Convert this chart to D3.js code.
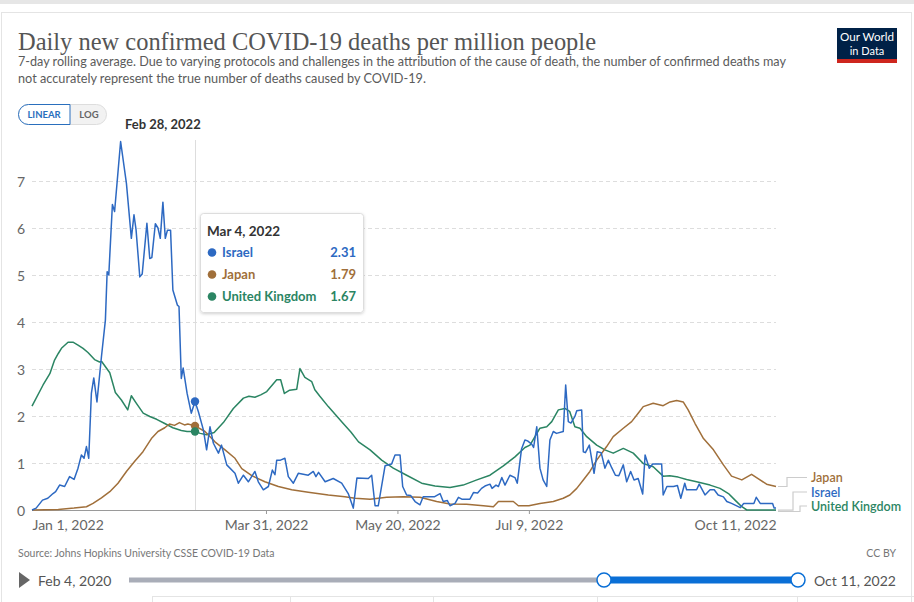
<!DOCTYPE html>
<html>
<head>
<meta charset="UTF-8">
<title>Daily new confirmed COVID-19 deaths per million people</title>
<script src="https://cdn.jsdelivr.net/npm/d3@7"></script>
<style>
  body { margin: 0; background: #fff; }
  text { font-family: Lato, "Noto Sans", sans-serif; }
  .yaxis text, .xaxis text { fill: #666; font-size: 14px; }
  .yaxis .domain, .xaxis .domain { display: none; }
  .yaxis line { stroke: #ddd; stroke-dasharray: 4,3; }
  .xaxis line { stroke: #999; }
</style>
</head>
<body>
<svg id="svg"></svg>
<script>
var WIDTH = 914, HEIGHT = 602;

// day offsets from Jan 1, 2022 and values
var israel = [[0,0],[1.6,0.04],[4,0.21],[6,0.25],[8,0.35],[9,0.39],[10.5,0.53],[12.4,0.5],[14.3,0.71],[16,0.65],
  [17.5,0.89],[18.8,1.17],[19.8,1.1],[20.7,1.35],[21.6,1.1],[22.6,2.48],[23.5,2.81],[24.7,2.3],[26.4,3.26],[27.9,4.04],
  [28.6,5.07],[29.2,5.0],[30.6,6.5],[31.4,6.35],[33.7,7.84],[35.9,6.95],[37.8,5.78],[38.8,6.28],[39.6,5.96],[41,4.96],
  [41.9,5.02],[43.7,6.1],[44.8,5.35],[45.6,5.37],[46.9,6.09],[47.9,6.0],[48.8,5.78],[49.8,6.55],[50.7,5.78],[51.5,5.95],
  [52.7,5.95],[53.6,4.68],[55.3,4.36],[55.9,4.33],[56.8,2.8],[57.5,3.02],[59,2.48],[60.6,2.06],[62,2.31],[63.3,2.09],
  [65.2,1.7],[66.4,1.28],[67.7,1.77],[69,1.42],[70.9,1.21],[72.1,1.38],[74.1,0.96],[77.2,0.78],[78.5,0.57],[80.4,0.74],
  [82.3,0.6],[84.8,0.82],[86.1,0.6],[88,0.43],[89.9,0.5],[91.4,0.85],[92.4,0.75],[93.1,1.06],[94.5,1.06],[96.2,1.1],
  [97.5,0.71],[99.4,0.57],[101.3,0.78],[105.1,0.74],[107,0.82],[108,0.71],[109,0.8],[111.5,0.6],[114.6,0.67],[117.8,0.57],
  [120.3,0.35],[122.2,0.04],[123.6,0.68],[127.9,0.67],[129.2,0.74],[130.5,0.09],[131.7,0.09],[134.3,0.94],[136.8,0.98],[138.1,1.17],
  [140,1.17],[141,0.5],[142.5,0.32],[144,0.31],[145.7,0.18],[147.6,0.11],[148.8,0.28],[153,0.28],[155.2,0.35],[156.4,0.18],
  [158,0.2],[159,0.09],[160.9,0.14],[162.2,0.27],[163.5,0.23],[166.6,0.23],[167.9,0.37],[169.5,0.36],[171,0.46],[172.3,0.51],
  [174.2,0.55],[175,0.46],[176.5,0.53],[177.4,0.5],[178.7,0.69],[179.9,0.53],[181.8,0.74],[183.7,0.69],[184.6,0.57],[186.2,1.3],
  [187.5,1.49],[188.5,1.47],[190.1,1.4],[190.8,1.33],[192,1.77],[193.2,0.89],[194.4,0.64],[195.8,0.5],[197,1.49],[198.3,1.67],
  [199.5,1.63],[202.1,1.67],[203,2.66],[204,1.88],[205,1.85],[206.5,1.99],[207.2,2.11],[209.1,2.13],[209.7,1.24],[210.5,1.22],
  [212,1.38],[213.8,0.78],[215,1.24],[216.5,1.22],[217.9,0.89],[219.2,1.06],[220.5,0.9],[221.9,0.74],[223.2,0.73],[224.9,0.96],
  [226.2,0.6],[227.7,0.82],[229,0.64],[230.6,0.67],[232.3,0.34],[233.2,1.17],[234.8,0.89],[236.1,0.98],[239.5,0.98],[240.1,0.32],
  [241.5,0.5],[244,0.5],[245.5,0.52],[246.8,0.25],[248.3,0.57],[249,0.43],[252.8,0.43],[253.8,0.55],[256,0.32],[257.9,0.43],
  [259.5,0.43],[261,0.32],[263,0.28],[264.3,0.18],[266.1,0.14],[269.4,0.05],[270.7,0.14],[274.6,0.14],[275.5,0.27],[277,0.14],
  [281.7,0.14],[282.3,0.04],[283,0.04]];

var japan = [[0,0],[10,0.01],[16,0.04],[20.7,0.07],[23.2,0.14],[26.4,0.26],[29.6,0.39],[32.7,0.57],[35.9,0.82],[39,1.03],
  [42.2,1.24],[45.4,1.52],[47.9,1.67],[50.5,1.75],[52.3,1.83],[54.2,1.8],[56.1,1.86],[58,1.81],[59.3,1.83],[62,1.79],
  [65.8,1.67],[69.6,1.45],[73.4,1.28],[77.2,1.1],[79.8,0.88],[83.6,0.73],[88.6,0.6],[93.7,0.5],[98.8,0.43],[105.1,0.38],
  [112.7,0.32],[119,0.28],[122.9,0.25],[128.6,0.23],[134.9,0.27],[141.3,0.28],[147.6,0.27],[153.9,0.18],[159,0.13],[165.3,0.12],
  [171.7,0.09],[175.5,0.07],[177.4,0.18],[183.1,0.18],[185,0.09],[189,0.09],[193.2,0.14],[198.3,0.18],[202.1,0.25],[204.6,0.32],
  [207.2,0.46],[209.7,0.64],[212.2,0.82],[214.8,1.06],[218.6,1.35],[221.1,1.56],[224.9,1.74],[228.1,1.88],[230.6,2.06],[232.5,2.2],
  [236.3,2.27],[240.1,2.22],[242.7,2.3],[245.2,2.33],[247.7,2.3],[249.6,2.13],[252.2,1.84],[255.4,1.52],[259.2,1.28],[263,0.96],
  [266.1,0.72],[270,0.64],[273.7,0.76],[276.9,0.64],[279.4,0.55],[283,0.5]];

var uk = [[0,2.21],[4.2,2.66],[6.8,2.9],[8.6,3.19],[10,3.33],[11.2,3.44],[13.7,3.57],[15.6,3.57],[17.5,3.51],[19.4,3.44],
  [21.3,3.35],[23.8,3.2],[25.7,3.15],[26.5,3.16],[29.6,2.92],[31.7,2.5],[34,2.34],[36.4,2.13],[37.8,2.43],[39.6,2.28],
  [42.3,2.06],[44.8,1.99],[47.4,1.93],[50.5,1.84],[53.6,1.75],[56.8,1.69],[59,1.67],[62,1.67],[64,1.63],[66.4,1.6],
  [69.3,1.65],[72.8,1.86],[76.6,2.16],[80.4,2.38],[82.5,2.42],[84.8,2.4],[87,2.45],[89.3,2.52],[93.1,2.77],[94.6,2.77],
  [96,2.48],[98,2.55],[100.7,2.57],[101.9,3.01],[103.8,2.82],[106.4,2.73],[107.6,2.56],[109.5,2.42],[112.7,2.2],[117.8,1.88],
  [121.3,1.66],[124.2,1.45],[128.6,1.28],[133,1.06],[137.4,0.89],[142.5,0.74],[148.2,0.57],[153.3,0.51],[159,0.48],[164,0.53],
  [169.2,0.64],[174.2,0.74],[179.3,0.94],[183.7,1.13],[187.5,1.33],[189.4,1.38],[193.2,1.74],[195.8,1.77],[197.7,1.88],[200.2,2.13],
  [202.7,2.16],[204.5,2.1],[206.5,1.77],[208.4,1.74],[211,1.56],[214.8,1.38],[217.9,1.28],[221.1,1.21],[224.9,1.31],[228.7,1.21],
  [232.5,0.99],[236.3,0.92],[240.1,0.72],[242.6,0.73],[245.8,0.7],[249,0.65],[252.8,0.6],[257.9,0.53],[261.7,0.46],[264.9,0.35],
  [267.4,0.21],[270,0.07],[271.9,0],[283,0]];

var countries = ["Israel", "Japan", "United Kingdom"];
var colors = ["#2d69c2", "#a06f3a", "#2b8563"];
var hoverDay = 62;           // Mar 4, 2022
var hoverValues = [2.31, 1.79, 1.67];
var yTicks = [0, 1, 2, 3, 4, 5, 6, 7];
var xTickDays = [0, 89, 139, 189, 283];
var endLabels = ["Japan", "Israel", "United Kingdom"];

var start = new Date(2022, 0, 1);
function toDate(d) { return d3.timeHour.offset(start, Math.round(d * 24)); }

var svg = d3.select("#svg").attr("width", WIDTH).attr("height", HEIGHT);

// frame
svg.append("rect").attr("x", 0).attr("y", 0).attr("width", WIDTH).attr("height", 4).attr("fill", "#e6e6e6");
svg.append("rect").attr("x", 1.5).attr("y", 12.5).attr("width", 910).attr("height", 600)
   .attr("fill", "#fff").attr("stroke", "#e4e4e4");

// header
svg.append("text").attr("x", 18).attr("y", 50).text("Daily new confirmed COVID-19 deaths per million people")
   .style("font-family", "'Liberation Serif', 'DejaVu Serif', serif").style("font-size", "25px").attr("fill", "#555")
   .attr("textLength", 578).attr("lengthAdjust", "spacingAndGlyphs");
svg.append("text").attr("x", 18).attr("y", 66)
   .text("7-day rolling average. Due to varying protocols and challenges in the attribution of the cause of death, the number of confirmed deaths may")
   .style("font-size", "12.5px").attr("fill", "#5b5b5b").attr("textLength", 768).attr("lengthAdjust", "spacingAndGlyphs");
svg.append("text").attr("x", 18).attr("y", 83)
   .text("not accurately represent the true number of deaths caused by COVID-19.")
   .style("font-size", "12.5px").attr("fill", "#5b5b5b").attr("textLength", 408).attr("lengthAdjust", "spacingAndGlyphs");

// logo
var logo = svg.append("g");
logo.append("rect").attr("x", 837).attr("y", 28).attr("width", 60).attr("height", 35).attr("fill", "#002147");
logo.append("rect").attr("x", 837).attr("y", 59).attr("width", 60).attr("height", 4).attr("fill", "#ce261e");
logo.append("text").attr("x", 867).attr("y", 41).attr("text-anchor", "middle").attr("fill", "#fff")
    .style("font-size", "11px").attr("textLength", 54).attr("lengthAdjust", "spacingAndGlyphs").text("Our World");
logo.append("text").attr("x", 867).attr("y", 55).attr("text-anchor", "middle").attr("fill", "#fff")
    .style("font-size", "11px").text("in Data");

// linear / log toggle
svg.append("rect").attr("x", 18.5).attr("y", 104.5).attr("width", 88).attr("height", 20).attr("rx", 10)
   .attr("fill", "#f2f2f2").attr("stroke", "#ddd");
svg.append("path").attr("d", "M70,104.5 H28.5 A10,10 0 0 0 28.5,124.5 H70 Z")
   .attr("fill", "#fff").attr("stroke", "#2a6fbd");
svg.append("text").attr("x", 44).attr("y", 118).attr("text-anchor", "middle").attr("fill", "#2a6fbd")
   .style("font-size", "9.5px").style("font-weight", "bold").text("LINEAR");
svg.append("text").attr("x", 89).attr("y", 118).attr("text-anchor", "middle").attr("fill", "#666")
   .style("font-size", "9.5px").style("font-weight", "bold").text("LOG");
svg.append("text").attr("x", 125).attr("y", 129).attr("fill", "#333")
   .style("font-size", "13px").style("font-weight", "bold").text("Feb 28, 2022");

// scales
var xScale = d3.scaleTime().domain([start, toDate(283)]).range([32, 776]);
var yScale = d3.scaleLinear().domain([0, 7]).range([510, 181]);

// y axis with dashed grid
var yAxis = d3.axisLeft(yScale).tickValues(yTicks).tickSize(-(776 - 32)).tickPadding(7).tickFormat(d3.format("d"));
var gy = svg.append("g").attr("class", "yaxis").attr("transform", "translate(32,0)").call(yAxis);
gy.selectAll(".tick").filter(function(d){ return d === 0; }).select("line").remove();
gy.selectAll("text").attr("x", -7).attr("dy", "0.36em");

// x axis
var xAxis = d3.axisBottom(xScale).tickValues(xTickDays.map(toDate)).tickSize(4).tickPadding(6)
              .tickFormat(d3.timeFormat("%b %-d, %Y"));
var gx = svg.append("g").attr("class", "xaxis").attr("transform", "translate(0,510)").call(xAxis);
gx.selectAll(".tick").filter(function(d, i){ return i === 0 || i === xTickDays.length - 1; }).select("line").remove();
gx.selectAll(".tick text").attr("text-anchor", function(d, i){
  return i === 0 ? "start" : (i === xTickDays.length - 1 ? "end" : "middle");
});
svg.append("line").attr("x1", 32).attr("x2", 776).attr("y1", 510.5).attr("y2", 510.5).attr("stroke", "#9a9a9a");

// hover line
svg.append("line").attr("x1", xScale(toDate(hoverDay)) + 0.5).attr("x2", xScale(toDate(hoverDay)) + 0.5)
   .attr("y1", 140).attr("y2", 510).attr("stroke", "#ddd");

// lines
var line = d3.line().x(function(d){ return xScale(toDate(d[0])); }).y(function(d){ return yScale(d[1]); });
var seriesData = [israel, japan, uk];
[2, 1, 0].forEach(function(i){
  svg.append("path").datum(seriesData[i]).attr("d", line).attr("fill", "none")
     .attr("stroke", colors[i]).attr("stroke-width", 1.5).attr("stroke-linejoin", "round");
});

// hover dots
hoverValues.forEach(function(v, i){
  svg.append("circle").attr("cx", xScale(toDate(hoverDay))).attr("cy", yScale(v)).attr("r", 4.2).attr("fill", colors[i]);
});

// end labels with connectors
var lastVals = [japan[japan.length - 1][1], israel[israel.length - 1][1], uk[uk.length - 1][1]];
var labelColors = [colors[1], colors[0], colors[2]];
var labelY = [477.5, 492, 506];
var elbowX = [787, 793, 800];
endLabels.forEach(function(name, i){
  var y0 = yScale(lastVals[i]) + (i === 1 ? 2 : (i === 2 ? 1.5 : 0));
  svg.append("path").attr("d", "M778," + y0 + " H" + elbowX[i] + " V" + labelY[i] + " H807")
     .attr("fill", "none").attr("stroke", "#ccc").attr("stroke-width", 1.2);
  svg.append("text").attr("x", 811).attr("y", labelY[i] + 4.5).attr("fill", labelColors[i])
     .style("font-size", "12.5px").style("font-weight", "600").text(name);
});

// tooltip
var defs = svg.append("defs");
var f = defs.append("filter").attr("id", "shadow").attr("x", "-10%").attr("y", "-10%").attr("width", "120%").attr("height", "130%");
f.append("feDropShadow").attr("dx", 0).attr("dy", 1).attr("stdDeviation", 1.5).attr("flood-color", "#000").attr("flood-opacity", 0.18);
var tip = svg.append("g");
tip.append("rect").attr("x", 200.5).attr("y", 213.5).attr("width", 163).attr("height", 99).attr("rx", 3)
   .attr("fill", "#fff").attr("stroke", "#ddd").attr("filter", "url(#shadow)");
tip.append("text").attr("x", 207).attr("y", 236).attr("fill", "#333")
   .style("font-size", "13.5px").style("font-weight", "bold").text("Mar 4, 2022");
var rowY = [257, 279, 301];
countries.forEach(function(c, i){
  tip.append("circle").attr("cx", 212).attr("cy", rowY[i] - 4.5).attr("r", 4.3).attr("fill", colors[i]);
  tip.append("text").attr("x", 222).attr("y", rowY[i]).attr("fill", colors[i])
     .style("font-size", "13px").style("font-weight", "bold").text(c);
  tip.append("text").attr("x", 356).attr("y", rowY[i]).attr("text-anchor", "end").attr("fill", colors[i])
     .style("font-size", "13px").style("font-weight", "bold").text(d3.format(".2f")(hoverValues[i]));
});

// footer
svg.append("text").attr("x", 18).attr("y", 557).attr("fill", "#777").style("font-size", "10.5px")
   .text("Source: Johns Hopkins University CSSE COVID-19 Data");
svg.append("text").attr("x", 896).attr("y", 557).attr("text-anchor", "end").attr("fill", "#777").style("font-size", "10.5px")
   .text("CC BY");

// timeline
svg.append("path").attr("d", "M19,572 L30,580 L19,588 Z").attr("fill", "#666");
svg.append("text").attr("x", 38).attr("y", 585.5).attr("fill", "#555").style("font-size", "14px").text("Feb 4, 2020");
svg.append("line").attr("x1", 129).attr("x2", 604).attr("y1", 580).attr("y2", 580).attr("stroke", "#a9adb8").attr("stroke-width", 5);
svg.append("line").attr("x1", 604).attr("x2", 798).attr("y1", 580).attr("y2", 580).attr("stroke", "#0a6fd6").attr("stroke-width", 7);
[604, 798].forEach(function(cx){
  svg.append("circle").attr("cx", cx).attr("cy", 580).attr("r", 7).attr("fill", "#fff").attr("stroke", "#0a6fd6").attr("stroke-width", 1.5);
});
svg.append("text").attr("x", 814).attr("y", 585.5).attr("fill", "#555").style("font-size", "14px").text("Oct 11, 2022");

// tab strip at bottom edge
svg.append("line").attr("x1", 152).attr("x2", 914).attr("y1", 596.5).attr("y2", 596.5).attr("stroke", "#e4e4e4");
[152, 290, 433, 597, 797].forEach(function(tx){
  svg.append("line").attr("x1", tx + 0.5).attr("x2", tx + 0.5).attr("y1", 596).attr("y2", 602).attr("stroke", "#e4e4e4");
});
</script>
</body>
</html>
